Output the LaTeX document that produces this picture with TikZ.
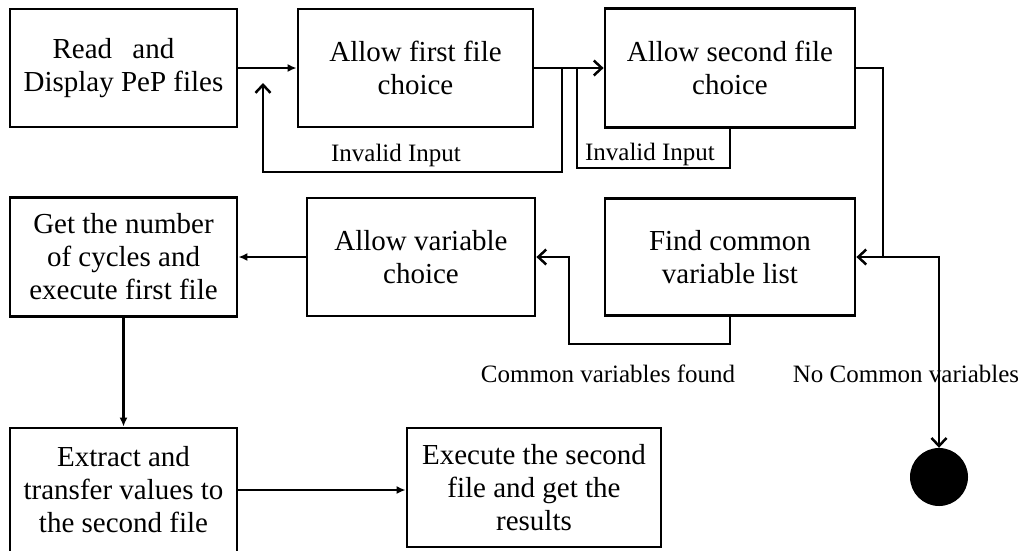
\documentclass[tikz,border=0pt]{standalone}
\usepackage{fontspec}
\setmainfont{Liberation Serif}
\usetikzlibrary{arrows.meta}
\begin{document}
\begin{tikzpicture}[x=1pt,y=-1pt,
  box/.style={draw, line width=2.8pt, inner sep=0pt, align=center,
    font=\fontsize{29}{33}\selectfont},
  lbl/.style={anchor=base, inner sep=0pt, font=\fontsize{25}{30}\selectfont},
  conn/.style={line width=2.5pt},
  tri/.style={conn, -{Latex[length=9pt,width=8pt]}},
  barb/.style={conn, -{Straight Barb[length=8pt,width=15pt]}},
]
\clip (0,0) rectangle (1027,550);
\fill[white] (0,0) rectangle (1027,550);
% boxes
\node[box, minimum width=227pt, minimum height=118pt] (read) at (123.5,68)
  {Read\hspace{0.7em}and\kern 20pt\\Display PeP files};
\node[box, minimum width=235pt, minimum height=118pt] (first) at (415.5,68)
  {Allow first file\\choice};
\node[box, minimum width=250pt, minimum height=119pt] (second) at (730,68)
  {Allow second file\\choice};
\node[box, minimum width=250pt, minimum height=117pt] (find) at (730,257)
  {Find common\\variable list};
\node[box, minimum width=228pt, minimum height=118pt] (var) at (421,257)
  {Allow variable\\choice};
\node[box, minimum width=227pt, minimum height=119pt] (get) at (123.5,257)
  {Get the number\\of cycles and\\execute first file};
\node[box, minimum width=227pt, minimum height=124pt] (extract) at (123.5,490)
  {Extract and\\transfer values to\\the second file};
\node[box, minimum width=254pt, minimum height=119pt] (exec) at (534,487.5)
  {Execute the second\\file and get the\\results};
\node[circle, fill=black, minimum size=58pt, inner sep=0pt] (endc) at (939,477) {};
% labels
\node[lbl] (inv1) at (396,161) {Invalid Input};
\node[lbl] (inv2) at (650,160) {Invalid Input};
\node[lbl] (cvf) at (608,382) {Common variables found};
\node[lbl] (ncv) at (906,382) {No Common variables};
% junction coordinates
\coordinate (j1) at (562,68);
\coordinate (j2) at (577,68);
\coordinate (e1) at (263,83);
\coordinate (lp1) at (0,172);
\coordinate (s2) at (730,127.5);
\coordinate (lp2) at (0,168);
\coordinate (k) at (883,257);
\coordinate (c1) at (569,344);
% connectors
\draw[tri] (read.east) -- (first.west);
\draw[barb] (first.east) -- (second.west);
\draw[barb] (j1) |- (e1 |- lp1) -- (e1);
\draw[conn] (j2) |- (s2 |- lp2) -- (s2);
\draw[barb] (second.east) -| (k) -- (find.east);
\draw[barb] (k) -| (endc.north);
\draw[barb] (find.south) |- (c1) |- (var.east);
\draw[tri] (var.west) -- (get.east);
\draw[tri] (get.south) -- (extract.north);
\draw[tri] (extract.east) -- (exec.west |- extract.east);
\end{tikzpicture}
\end{document}
